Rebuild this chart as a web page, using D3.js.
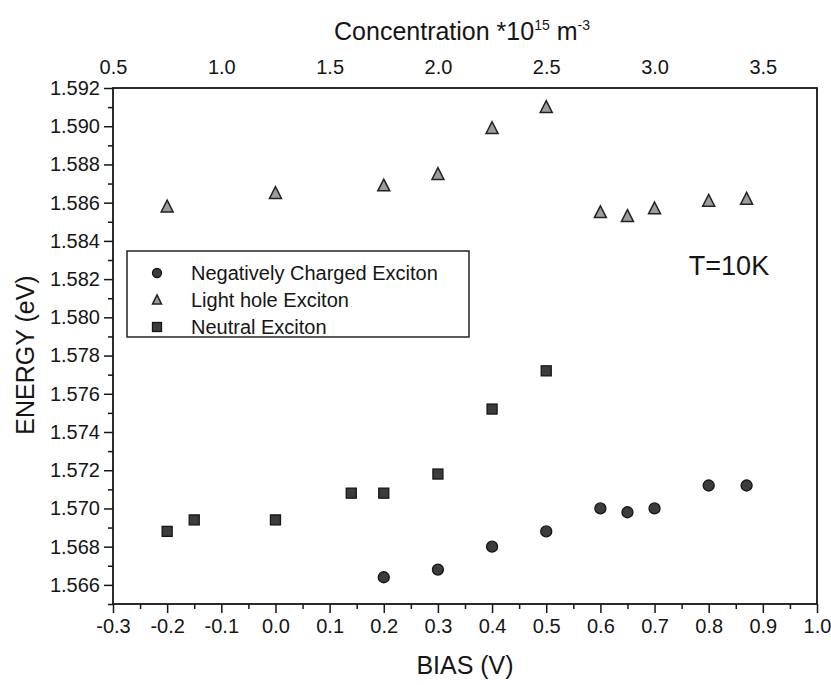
<!DOCTYPE html>
<html>
<head>
<meta charset="utf-8">
<script src="https://cdn.jsdelivr.net/npm/d3@7"></script>
<style>
  html, body { margin: 0; padding: 0; background: #fff; }
  svg { display: block; font-family: "Liberation Sans", Arial, Helvetica, sans-serif; }
</style>
</head>
<body>
<svg id="chart" width="831" height="685"></svg>
<script>
// Exciton peak energies versus applied bias
const biasNeg = [0.2, 0.3, 0.4, 0.5, 0.6, 0.65, 0.7, 0.8, 0.87];
const energyNeg = [1.5664, 1.5668, 1.5680, 1.5688, 1.5700, 1.5698, 1.5700, 1.5712, 1.5712];

const biasLH = [-0.2, 0.0, 0.2, 0.3, 0.4, 0.5, 0.6, 0.65, 0.7, 0.8, 0.87];
const energyLH = [1.5858, 1.5865, 1.5869, 1.5875, 1.5899, 1.5910, 1.5855, 1.5853, 1.5857, 1.5861, 1.5862];

const biasNeutral = [-0.2, -0.15, 0.0, 0.14, 0.2, 0.3, 0.4, 0.5];
const energyNeutral = [1.5688, 1.5694, 1.5694, 1.5708, 1.5708, 1.5718, 1.5752, 1.5772];

const biasTicks = [-0.3, -0.2, -0.1, 0.0, 0.1, 0.2, 0.3, 0.4, 0.5, 0.6, 0.7, 0.8, 0.9, 1.0];
const energyTicks = [1.566, 1.568, 1.570, 1.572, 1.574, 1.576, 1.578, 1.580, 1.582, 1.584, 1.586, 1.588, 1.590, 1.592];
const concTicks = [0.5, 1.0, 1.5, 2.0, 2.5, 3.0, 3.5];

const legendLabels = ["Negatively Charged Exciton", "Light hole Exciton", "Neutral Exciton"];

const svg = d3.select("#chart");
const plotL = 113, plotR = 817, plotT = 88, plotB = 604;
const ink = "#151515";

const x = d3.scaleLinear().domain([-0.3, 1.0]).range([plotL, plotR]);
const xTop = d3.scaleLinear().domain([0.5, 3.75]).range([plotL, plotR]);
const y = d3.scaleLinear().domain([1.565, 1.592]).range([plotB, plotT]);

const fmt1 = v => d3.format(".1f")(v).replace("\u2212", "-");
const fmt3 = v => d3.format(".3f")(v);

// minor tick positions halfway between majors
const biasMinor = d3.range(0, 13).map(i => -0.25 + i * 0.1);
const energyMinor = d3.range(0, 14).map(i => 1.565 + i * 0.002);

function styleAxis(g, fontSize) {
  g.select(".domain").remove();
  g.selectAll("line").attr("stroke", ink).attr("stroke-width", 1.5);
  g.selectAll("text").attr("fill", ink).style("font-size", fontSize + "px")
    .style("font-family", '"Liberation Sans", Arial, sans-serif');
}

// bottom axis
const gxMinor = svg.append("g").attr("transform", `translate(0,${plotB})`)
  .call(d3.axisBottom(x).tickValues(biasMinor).tickSize(5).tickFormat(""));
styleAxis(gxMinor, 20);
const gx = svg.append("g").attr("transform", `translate(0,${plotB})`)
  .call(d3.axisBottom(x).tickValues(biasTicks).tickSize(9).tickPadding(6).tickFormat(fmt1));
styleAxis(gx, 20);

// left axis
const gyMinor = svg.append("g").attr("transform", `translate(${plotL},0)`)
  .call(d3.axisLeft(y).tickValues(energyMinor).tickSize(5).tickFormat(""));
styleAxis(gyMinor, 20);
const gy = svg.append("g").attr("transform", `translate(${plotL},0)`)
  .call(d3.axisLeft(y).tickValues(energyTicks).tickSize(9).tickPadding(4).tickFormat(fmt3));
styleAxis(gy, 20);

// top axis (carrier concentration), labels only
const gt = svg.append("g").attr("transform", `translate(0,${plotT})`)
  .call(d3.axisTop(xTop).tickValues(concTicks).tickSize(0).tickPadding(14).tickFormat(d3.format(".1f")));
styleAxis(gt, 20);

// frame
svg.append("rect").attr("x", plotL).attr("y", plotT)
  .attr("width", plotR - plotL).attr("height", plotB - plotT)
  .attr("fill", "none").attr("stroke", ink).attr("stroke-width", 1.8);

// axis titles
svg.append("text").attr("x", (plotL + plotR) / 2).attr("y", 674)
  .attr("text-anchor", "middle").style("font-size", "25px").attr("fill", ink)
  .text("BIAS (V)");

svg.append("text").attr("transform", `translate(34,355) rotate(-90)`)
  .attr("text-anchor", "middle").style("font-size", "25px").attr("fill", ink)
  .text("ENERGY (eV)");

const conc = svg.append("text").attr("x", 462).attr("y", 40)
  .attr("text-anchor", "middle").style("font-size", "25px").attr("fill", ink);
conc.append("tspan").text("Concentration *10");
conc.append("tspan").attr("dy", -10).style("font-size", "14px").text("15");
conc.append("tspan").attr("dy", 10).text(" m");
conc.append("tspan").attr("dy", -10).style("font-size", "14px").text("-3");

// marker drawers
function circleMark(g, cx, cy, s) {
  g.append("circle").attr("cx", cx).attr("cy", cy).attr("r", s * 0.5)
    .attr("fill", "#3c3c3c").attr("stroke", ink).attr("stroke-width", 1.3);
}
function squareMark(g, cx, cy, s) {
  g.append("rect").attr("x", cx - s / 2).attr("y", cy - s / 2).attr("width", s).attr("height", s)
    .attr("fill", "#3c3c3c").attr("stroke", ink).attr("stroke-width", 1.3);
}
function triMark(g, cx, cy, s) {
  const h = s * 0.9;
  g.append("path")
    .attr("d", `M${cx},${cy - h / 2 - 1}L${cx + s / 2},${cy + h / 2}L${cx - s / 2},${cy + h / 2}Z`)
    .attr("fill", "#9c9c9c").attr("stroke", "#222").attr("stroke-width", 1.5);
}

const marks = svg.append("g");
biasNeutral.forEach((b, i) => squareMark(marks, x(b), y(energyNeutral[i]), 10));
biasNeg.forEach((b, i) => circleMark(marks, x(b), y(energyNeg[i]), 11));
biasLH.forEach((b, i) => triMark(marks, x(b), y(energyLH[i]), 12));

// legend
const lg = svg.append("g");
lg.append("rect").attr("x", 127).attr("y", 251).attr("width", 342).attr("height", 86)
  .attr("fill", "#fff").attr("stroke", ink).attr("stroke-width", 1.4);
const drawers = [circleMark, triMark, squareMark];
legendLabels.forEach((t, i) => {
  const cy = 273 + i * 27;
  drawers[i](lg, 157, cy, 9);
  lg.append("text").attr("x", 191).attr("y", cy + 7).style("font-size", "20px")
    .attr("fill", ink).text(t);
});

svg.append("text").attr("x", 729).attr("y", 275).attr("text-anchor", "middle")
  .style("font-size", "27px").attr("fill", ink).text("T=10K");
</script>
</body>
</html>
